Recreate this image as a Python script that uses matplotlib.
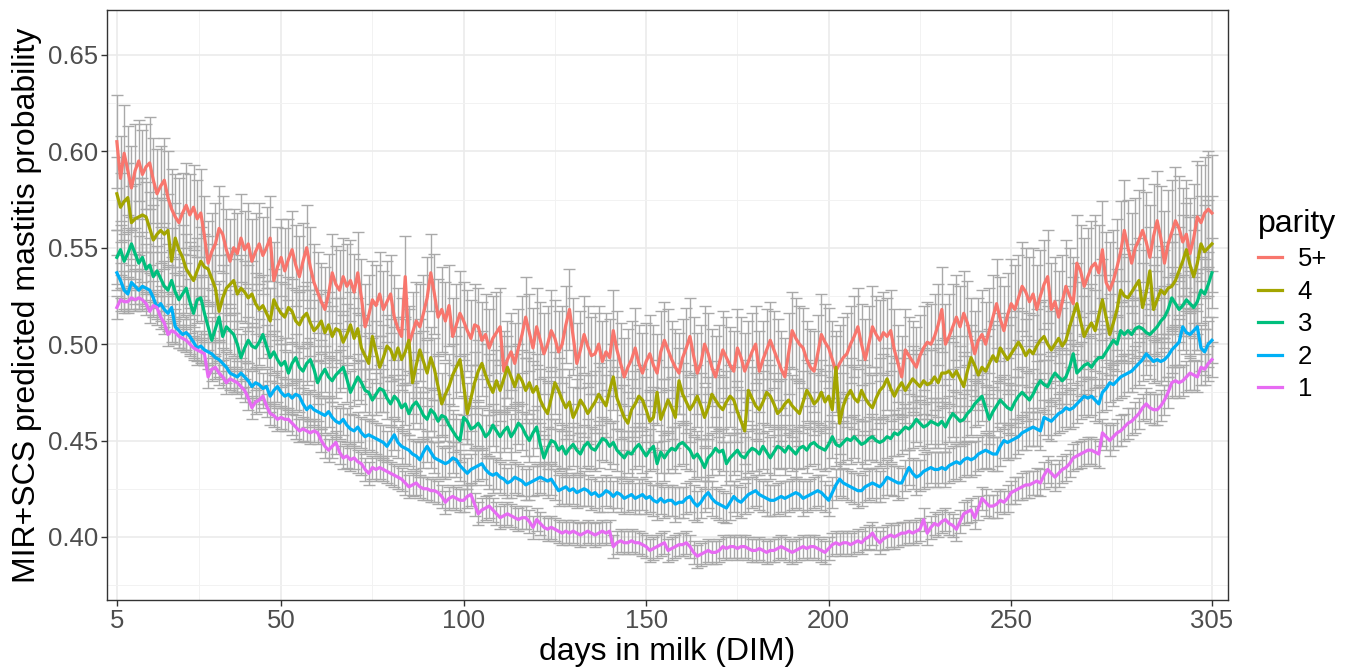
import numpy as np
import matplotlib.pyplot as plt

# predicted mastitis probability by DIM, per parity (values x 1000)
dim = np.arange(5, 306)

p5 = [605, 586, 599, 590, 581, 590, 595, 588, 592, 594,
      585, 578, 582, 585, 576, 570, 566, 563, 568, 572,
      567, 571, 565, 568, 556, 542, 548, 552, 560, 557,
      549, 543, 550, 547, 555, 549, 552, 543, 548, 552,
      546, 550, 555, 533, 540, 545, 538, 544, 549, 541,
      535, 543, 550, 540, 532, 527, 522, 518, 526, 537,
      531, 528, 535, 530, 533, 527, 537, 524, 509, 515,
      523, 520, 526, 518, 522, 526, 514, 508, 504, 535,
      500, 506, 512, 509, 516, 524, 537, 526, 514, 518,
      512, 520, 504, 510, 516, 512, 507, 503, 510, 509,
      502, 505, 498, 503, 506, 509, 486, 492, 496, 490,
      498, 505, 514, 506, 498, 509, 502, 495, 500, 507,
      503, 496, 500, 510, 518, 504, 490, 497, 505, 499,
      494, 495, 500, 491, 496, 493, 507, 497, 490, 483,
      488, 492, 498, 490, 485, 491, 495, 489, 485, 496,
      502, 497, 492, 488, 485, 493, 498, 504, 494, 485,
      490, 500, 495, 488, 483, 490, 497, 493, 489, 486,
      498, 493, 486, 491, 496, 500, 486, 492, 497, 502,
      497, 492, 487, 483, 495, 507, 503, 500, 498, 492,
      488, 486, 495, 505, 501, 498, 492, 486, 490, 493,
      495, 500, 504, 509, 500, 492, 500, 509, 505, 502,
      506, 504, 507, 497, 490, 483, 497, 494, 491, 488,
      494, 498, 501, 500, 504, 510, 518, 500, 504, 509,
      514, 509, 516, 511, 503, 495, 502, 505, 500, 507,
      514, 521, 513, 507, 515, 521, 518, 524, 530, 527,
      522, 526, 518, 525, 531, 535, 518, 522, 514, 522,
      530, 525, 521, 542, 538, 530, 535, 540, 542, 537,
      549, 532, 528, 533, 540, 548, 559, 550, 542, 550,
      554, 559, 553, 545, 556, 564, 555, 542, 552, 558,
      564, 560, 553, 557, 547, 555, 566, 563, 568, 570,
      568]

p4 = [578, 571, 574, 576, 563, 565, 566, 567, 566, 560,
      554, 557, 559, 557, 559, 543, 555, 549, 545, 539,
      536, 533, 538, 543, 540, 539, 534, 529, 517, 524,
      529, 531, 533, 526, 529, 527, 524, 526, 521, 518,
      520, 516, 512, 523, 519, 516, 514, 519, 517, 512,
      510, 514, 516, 511, 507, 509, 512, 506, 510, 504,
      508, 507, 501, 505, 510, 503, 508, 498, 494, 490,
      504, 496, 488, 493, 499, 497, 492, 498, 492, 496,
      502, 480, 489, 497, 491, 485, 493, 487, 478, 469,
      474, 478, 484, 488, 492, 479, 464, 472, 480, 486,
      490, 484, 479, 475, 481, 476, 482, 488, 483, 478,
      484, 481, 476, 480, 475, 478, 471, 467, 464, 472,
      480, 476, 471, 467, 470, 462, 466, 471, 468, 464,
      467, 470, 474, 471, 468, 476, 483, 472, 467, 462,
      459, 466, 469, 473, 471, 466, 460, 462, 475, 461,
      466, 471, 467, 462, 481, 474, 470, 466, 469, 473,
      468, 462, 467, 474, 471, 468, 466, 470, 473, 471,
      465, 460, 455, 476, 472, 468, 466, 470, 475, 473,
      469, 464, 466, 469, 471, 468, 466, 464, 470, 476,
      473, 469, 471, 475, 470, 473, 466, 488, 459, 468,
      473, 476, 472, 470, 476, 472, 469, 467, 472, 476,
      478, 482, 477, 473, 477, 480, 476, 479, 482, 480,
      478, 481, 479, 480, 483, 480, 485, 485, 486, 483,
      486, 482, 478, 486, 493, 489, 484, 488, 486, 490,
      494, 491, 498, 495, 492, 495, 498, 501, 498, 494,
      497, 495, 499, 502, 504, 500, 497, 500, 503, 499,
      502, 509, 515, 521, 512, 504, 508, 511, 507, 515,
      523, 514, 505, 511, 518, 528, 525, 524, 527, 530,
      533, 519, 527, 538, 518, 523, 528, 526, 529, 530,
      533, 538, 543, 549, 541, 535, 542, 552, 548, 550,
      552]

p3 = [545, 549, 543, 547, 552, 547, 542, 545, 539, 541,
      535, 538, 534, 530, 528, 533, 527, 523, 526, 529,
      522, 516, 523, 524, 516, 509, 502, 508, 514, 504,
      509, 507, 505, 500, 493, 498, 502, 499, 498, 501,
      505, 499, 493, 496, 492, 489, 491, 485, 490, 493,
      488, 486, 490, 492, 487, 480, 484, 487, 483, 481,
      484, 486, 488, 482, 475, 479, 483, 480, 476, 475,
      471, 474, 477, 476, 472, 469, 473, 471, 467, 469,
      464, 468, 470, 467, 463, 461, 466, 464, 460, 463,
      462, 458, 455, 452, 450, 462, 460, 456, 457, 459,
      456, 452, 454, 458, 455, 452, 455, 457, 452, 455,
      459, 457, 453, 450, 454, 457, 448, 441, 446, 450,
      449, 445, 447, 443, 446, 448, 445, 443, 447, 449,
      446, 445, 448, 451, 450, 447, 449, 445, 443, 441,
      444, 443, 446, 448, 445, 442, 445, 447, 438, 444,
      441, 444, 446, 445, 448, 449, 447, 445, 441, 443,
      440, 436, 441, 443, 446, 444, 445, 438, 441, 443,
      445, 442, 441, 444, 446, 445, 443, 447, 444, 441,
      444, 447, 446, 444, 447, 445, 443, 446, 447, 445,
      448, 449, 447, 446, 445, 448, 452, 448, 447, 449,
      451, 450, 452, 450, 448, 449, 451, 452, 450, 449,
      450, 452, 451, 454, 453, 455, 457, 456, 458, 461,
      459, 457, 458, 460, 459, 458, 460, 457, 461, 464,
      462, 460, 461, 464, 466, 469, 471, 473, 467, 461,
      465, 468, 471, 469, 467, 466, 470, 473, 475, 473,
      471, 474, 478, 481, 479, 478, 482, 485, 483, 481,
      483, 488, 495, 485, 487, 489, 490, 488, 491, 493,
      493, 496, 499, 502, 500, 507, 505, 507, 505, 508,
      509, 508, 506, 505, 507, 509, 512, 514, 518, 524,
      521, 518, 520, 523, 521, 519, 522, 528, 526, 531,
      537]

p2 = [537, 533, 528, 526, 532, 530, 528, 530, 529, 528,
      524, 519, 521, 518, 516, 519, 509, 507, 505, 506,
      504, 501, 498, 499, 497, 496, 495, 493, 492, 490,
      488, 485, 484, 483, 485, 483, 481, 478, 480, 479,
      477, 478, 473, 476, 478, 475, 473, 474, 472, 474,
      473, 469, 466, 468, 466, 465, 464, 463, 465, 462,
      460, 459, 461, 458, 456, 455, 457, 454, 452, 453,
      452, 451, 450, 449, 447, 450, 453, 449, 447, 446,
      445, 443, 442, 440, 444, 447, 444, 441, 440, 439,
      438, 439, 441, 440, 437, 435, 433, 435, 436, 437,
      438, 435, 433, 432, 433, 431, 430, 428, 429, 431,
      430, 429, 427, 428, 429, 430, 431, 430, 429, 430,
      427, 424, 425, 426, 424, 425, 423, 424, 425, 424,
      422, 423, 421, 422, 424, 423, 421, 423, 422, 420,
      421, 422, 420, 421, 422, 420, 421, 419, 418, 420,
      418, 419, 419, 417, 418, 418, 420, 421, 418, 416,
      418, 421, 423, 420, 418, 417, 416, 415, 418, 421,
      419, 418, 420, 422, 423, 424, 422, 421, 420, 419,
      419, 420, 421, 420, 421, 422, 423, 422, 420, 421,
      422, 423, 424, 423, 421, 419, 423, 427, 430, 428,
      427, 426, 425, 424, 424, 426, 427, 428, 427, 426,
      428, 431, 430, 429, 428, 428, 432, 436, 433, 431,
      432, 434, 435, 436, 435, 435, 436, 435, 437, 438,
      439, 438, 440, 441, 440, 441, 443, 444, 445, 444,
      443, 443, 447, 450, 449, 450, 451, 452, 454, 455,
      456, 457, 456, 455, 462, 461, 460, 462, 464, 465,
      467, 466, 467, 469, 471, 473, 472, 473, 471, 469,
      475, 477, 480, 479, 481, 483, 484, 485, 486, 488,
      490, 492, 495, 493, 491, 492, 491, 492, 494, 497,
      499, 501, 509, 506, 505, 507, 509, 498, 496, 500,
      502]

p1 = [519, 523, 522, 522, 524, 523, 524, 523, 521, 517,
      520, 519, 514, 511, 505, 507, 506, 504, 503, 502,
      500, 498, 497, 496, 495, 483, 487, 488, 485, 483,
      480, 482, 481, 480, 478, 476, 472, 467, 470, 471,
      473, 468, 464, 463, 461, 462, 461, 461, 459, 457,
      455, 456, 455, 454, 455, 454, 450, 447, 445, 447,
      449, 444, 441, 442, 440, 441, 439, 438, 435, 433,
      436, 435, 436, 435, 434, 433, 432, 431, 430, 428,
      426, 427, 428, 426, 425, 425, 424, 424, 423, 421,
      418, 420, 421, 420, 419, 419, 421, 422, 417, 412,
      414, 415, 416, 414, 412, 410, 411, 412, 411, 410,
      409, 410, 410, 408, 405, 409, 407, 405, 404, 405,
      404, 403, 402, 403, 402, 403, 402, 401, 402, 403,
      402, 401, 402, 403, 402, 403, 395, 397, 398, 397,
      397, 398, 397, 397, 396, 395, 393, 394, 395, 396,
      397, 393, 394, 395, 396, 396, 397, 395, 392, 390,
      391, 392, 393, 392, 392, 393, 395, 394, 395, 395,
      394, 395, 395, 394, 393, 393, 394, 393, 392, 393,
      393, 394, 395, 394, 393, 392, 393, 394, 395, 394,
      395, 395, 394, 393, 392, 394, 396, 397, 396, 397,
      397, 396, 397, 398, 397, 399, 400, 402, 399, 397,
      399, 400, 401, 400, 401, 402, 402, 403, 402, 403,
      404, 409, 402, 405, 407, 406, 408, 409, 407, 406,
      404, 408, 412, 413, 414, 410, 415, 420, 418, 416,
      416, 417, 419, 418, 420, 423, 424, 425, 426, 427,
      427, 428, 429, 428, 432, 435, 433, 431, 433, 435,
      436, 438, 441, 442, 443, 444, 445, 445, 444, 443,
      454, 452, 450, 452, 454, 455, 457, 459, 460, 462,
      464, 467, 469, 467, 466, 466, 468, 471, 475, 480,
      481, 480, 481, 483, 485, 484, 483, 488, 487, 490,
      492]

# half-widths of the error bars (x 1000)
e5 = [24, 22, 25, 23, 22, 24, 21, 23, 22, 24,
      22, 23, 21, 22, 24, 21, 22, 23, 21, 22,
      21, 22, 20, 23, 21, 22, 20, 21, 22, 20,
      21, 22, 20, 21, 23, 20, 21, 22, 20, 21,
      20, 21, 22, 20, 21, 20, 22, 21, 20, 21,
      21, 20, 22, 21, 20, 21, 20, 22, 21, 20,
      20, 21, 20, 22, 21, 20, 21, 20, 22, 21,
      20, 21, 22, 20, 21, 20, 22, 21, 20, 21,
      20, 21, 20, 22, 20, 21, 20, 21, 20, 22,
      20, 21, 20, 21, 22, 20, 21, 20, 21, 20,
      20, 21, 20, 22, 21, 20, 21, 20, 20, 21,
      20, 20, 21, 20, 21, 20, 20, 21, 20, 21,
      20, 21, 20, 20, 21, 20, 21, 20, 20, 21,
      20, 21, 20, 21, 20, 20, 21, 20, 21, 20,
      20, 20, 21, 20, 21, 20, 20, 21, 20, 21,
      20, 21, 20, 20, 21, 20, 21, 20, 20, 21,
      20, 20, 21, 20, 21, 20, 20, 21, 20, 21,
      20, 21, 20, 21, 20, 20, 21, 20, 21, 20,
      20, 21, 20, 20, 21, 20, 21, 20, 21, 20,
      20, 21, 20, 21, 20, 21, 20, 21, 20, 21,
      21, 20, 21, 20, 21, 21, 20, 21, 20, 21,
      21, 20, 21, 21, 20, 21, 21, 20, 21, 21,
      21, 22, 21, 21, 22, 21, 22, 21, 22, 22,
      22, 21, 22, 22, 21, 22, 22, 23, 22, 22,
      22, 23, 22, 23, 22, 23, 23, 22, 23, 23,
      23, 24, 23, 24, 23, 24, 24, 23, 24, 24,
      24, 25, 24, 25, 24, 25, 25, 24, 25, 25,
      25, 26, 25, 26, 25, 26, 26, 25, 26, 26,
      26, 27, 26, 27, 27, 26, 27, 27, 28, 27,
      28, 27, 28, 28, 29, 28, 29, 30, 29, 30,
      30]

e4 = [19, 18, 20, 18, 19, 18, 20, 19, 18, 19,
      18, 19, 17, 18, 19, 17, 18, 19, 17, 18,
      17, 18, 17, 18, 17, 17, 18, 17, 16, 17,
      17, 16, 17, 18, 17, 16, 17, 17, 16, 17,
      16, 17, 17, 16, 17, 16, 17, 16, 17, 16,
      17, 16, 16, 17, 16, 17, 16, 16, 17, 16,
      16, 17, 16, 16, 17, 16, 16, 17, 16, 16,
      17, 16, 16, 17, 16, 16, 17, 16, 16, 17,
      16, 16, 17, 16, 16, 17, 16, 16, 17, 16,
      16, 17, 16, 16, 17, 16, 16, 17, 16, 16,
      17, 16, 16, 17, 16, 16, 17, 16, 16, 17,
      16, 16, 17, 16, 16, 17, 16, 16, 17, 16,
      16, 17, 16, 16, 17, 16, 16, 17, 16, 16,
      17, 16, 16, 17, 16, 16, 17, 16, 16, 17,
      16, 16, 17, 16, 16, 17, 16, 16, 17, 16,
      16, 17, 16, 16, 17, 16, 16, 17, 16, 16,
      17, 16, 16, 17, 16, 16, 17, 16, 16, 17,
      16, 16, 17, 16, 16, 17, 16, 16, 17, 16,
      16, 17, 16, 16, 17, 16, 16, 17, 16, 16,
      17, 16, 16, 17, 16, 16, 17, 16, 16, 17,
      16, 17, 16, 17, 16, 17, 16, 17, 16, 17,
      17, 16, 17, 17, 16, 17, 17, 16, 17, 17,
      17, 17, 18, 17, 17, 18, 17, 18, 17, 18,
      18, 17, 18, 18, 17, 18, 18, 19, 18, 18,
      18, 19, 18, 19, 18, 19, 19, 18, 19, 19,
      19, 20, 19, 20, 19, 20, 20, 19, 20, 20,
      20, 21, 20, 21, 20, 21, 21, 20, 21, 21,
      21, 22, 21, 22, 21, 22, 22, 21, 22, 22,
      22, 23, 22, 23, 23, 22, 23, 23, 24, 23,
      24, 23, 24, 24, 25, 24, 25, 25, 24, 25,
      25]

e3 = [14, 13, 14, 13, 14, 13, 14, 13, 13, 14,
      13, 13, 14, 13, 13, 12, 13, 13, 12, 13,
      12, 13, 12, 12, 13, 12, 12, 13, 12, 12,
      12, 12, 11, 12, 12, 11, 12, 12, 11, 12,
      12, 11, 12, 11, 12, 11, 12, 11, 11, 12,
      11, 12, 11, 11, 12, 11, 11, 12, 11, 11,
      12, 11, 11, 12, 11, 11, 12, 11, 11, 12,
      11, 11, 12, 11, 11, 12, 11, 11, 12, 11,
      11, 12, 11, 11, 12, 11, 11, 12, 11, 11,
      12, 11, 11, 12, 11, 11, 12, 11, 11, 12,
      11, 11, 12, 11, 11, 12, 11, 11, 12, 11,
      11, 12, 11, 11, 12, 11, 11, 12, 11, 11,
      12, 11, 11, 12, 11, 11, 12, 11, 11, 12,
      11, 11, 12, 11, 11, 12, 11, 11, 12, 11,
      11, 12, 11, 11, 12, 11, 11, 12, 11, 11,
      12, 11, 11, 12, 11, 11, 12, 11, 11, 12,
      11, 11, 12, 11, 11, 12, 11, 11, 12, 11,
      11, 12, 11, 11, 12, 11, 11, 12, 11, 11,
      12, 11, 11, 12, 11, 11, 12, 11, 11, 12,
      11, 11, 12, 11, 11, 12, 11, 11, 12, 11,
      11, 12, 11, 11, 12, 11, 11, 12, 11, 12,
      12, 11, 12, 12, 11, 12, 12, 11, 12, 12,
      12, 12, 12, 12, 13, 12, 12, 13, 12, 12,
      13, 12, 13, 12, 13, 12, 13, 13, 12, 13,
      13, 13, 12, 13, 13, 13, 13, 14, 13, 13,
      14, 13, 13, 14, 13, 14, 14, 13, 14, 14,
      14, 14, 15, 14, 14, 15, 14, 15, 14, 15,
      15, 14, 15, 15, 14, 15, 15, 16, 15, 15,
      15, 16, 15, 16, 16, 15, 16, 16, 17, 16,
      16, 17, 16, 17, 17, 16, 17, 17, 18, 17,
      18]

e2 = [9, 9, 10, 9, 9, 9, 10, 9, 9, 9,
      9, 9, 9, 9, 9, 8, 9, 9, 8, 9,
      9, 8, 9, 8, 8, 9, 8, 8, 9, 8,
      8, 8, 9, 8, 8, 8, 9, 8, 8, 8,
      8, 9, 8, 8, 8, 8, 9, 8, 8, 8,
      8, 8, 9, 8, 8, 8, 8, 9, 8, 8,
      8, 8, 8, 9, 8, 8, 8, 8, 9, 8,
      8, 8, 8, 9, 8, 8, 8, 8, 9, 8,
      8, 8, 8, 9, 8, 8, 8, 8, 9, 8,
      8, 8, 8, 9, 8, 8, 8, 8, 9, 8,
      8, 8, 8, 9, 8, 8, 8, 8, 9, 8,
      8, 8, 8, 9, 8, 8, 8, 8, 9, 8,
      8, 8, 8, 9, 8, 8, 8, 8, 9, 8,
      8, 8, 8, 9, 8, 8, 8, 8, 9, 8,
      8, 8, 8, 9, 8, 8, 8, 8, 9, 8,
      8, 8, 8, 9, 8, 8, 8, 8, 9, 8,
      8, 8, 8, 9, 8, 8, 8, 8, 9, 8,
      8, 8, 8, 9, 8, 8, 8, 8, 9, 8,
      8, 8, 8, 9, 8, 8, 8, 8, 9, 8,
      8, 8, 8, 9, 8, 8, 8, 8, 9, 8,
      8, 8, 8, 9, 8, 8, 8, 8, 9, 8,
      8, 9, 8, 8, 9, 8, 8, 9, 8, 9,
      8, 9, 9, 8, 9, 9, 8, 9, 9, 9,
      9, 9, 9, 9, 9, 9, 9, 9, 9, 9,
      9, 9, 10, 9, 9, 9, 10, 9, 9, 10,
      9, 10, 9, 10, 9, 10, 10, 9, 10, 10,
      10, 10, 10, 10, 10, 10, 10, 10, 11, 10,
      10, 11, 10, 11, 10, 11, 11, 10, 11, 11,
      11, 11, 11, 11, 11, 11, 12, 11, 11, 12,
      11, 12, 12, 11, 12, 12, 12, 12, 12, 12,
      12]

e1 = [6, 6, 6, 6, 6, 6, 6, 6, 6, 6,
      6, 6, 6, 6, 6, 6, 6, 6, 6, 6,
      6, 6, 6, 6, 6, 6, 6, 6, 6, 6,
      6, 6, 6, 6, 6, 6, 6, 6, 6, 6,
      6, 6, 6, 6, 6, 6, 6, 6, 6, 6,
      6, 6, 6, 6, 6, 6, 6, 6, 6, 6,
      6, 6, 6, 6, 6, 6, 6, 6, 6, 6,
      6, 6, 6, 6, 6, 6, 6, 6, 6, 6,
      6, 6, 6, 6, 6, 6, 6, 6, 6, 6,
      6, 6, 6, 6, 6, 6, 6, 6, 6, 6,
      6, 6, 6, 6, 6, 6, 6, 6, 6, 6,
      6, 6, 6, 6, 6, 6, 6, 6, 6, 6,
      6, 6, 6, 6, 6, 6, 6, 6, 6, 6,
      6, 6, 6, 6, 6, 6, 6, 6, 6, 6,
      6, 6, 6, 6, 6, 6, 6, 6, 6, 6,
      6, 6, 6, 6, 6, 6, 6, 6, 6, 6,
      6, 6, 6, 6, 6, 6, 6, 6, 6, 6,
      6, 6, 6, 6, 6, 6, 6, 6, 6, 6,
      6, 6, 6, 6, 6, 6, 6, 6, 6, 6,
      6, 6, 6, 6, 6, 6, 6, 6, 6, 6,
      6, 6, 6, 6, 6, 6, 6, 6, 6, 6,
      6, 6, 6, 6, 6, 6, 6, 6, 6, 6,
      6, 6, 6, 6, 6, 6, 6, 6, 6, 6,
      6, 6, 6, 6, 6, 6, 6, 6, 7, 6,
      6, 7, 6, 6, 7, 6, 7, 6, 7, 7,
      7, 6, 7, 7, 7, 7, 7, 7, 7, 7,
      7, 7, 7, 7, 7, 7, 7, 7, 7, 7,
      7, 7, 8, 7, 7, 8, 7, 8, 7, 8,
      8, 7, 8, 8, 8, 8, 8, 8, 8, 8,
      8, 8, 8, 8, 9, 8, 8, 9, 8, 9,
      9]

parity = ["5+", "4", "3", "2", "1"]
colors = ["#F8766D", "#A3A500", "#00BF7D", "#00B0F6", "#E76BF3"]
values = [p5, p4, p3, p2, p1]
errors = [e5, e4, e3, e2, e1]

plt.rcParams['font.family'] = ['Liberation Sans', 'DejaVu Sans']

fig = plt.figure(figsize=(13.5, 6.7), dpi=100)
ax = fig.add_axes([107 / 1350, 70 / 670, 1121 / 1350, 590 / 670])

# error bars first, lines on top (ggplot layer order)
for v, e in zip(values, errors):
    ax.errorbar(dim, np.array(v) / 1000, yerr=np.array(e) / 1000, fmt='none',
                ecolor='#A9A9A9', elinewidth=1.0, capsize=4.5, capthick=1.0, zorder=2)

handles = []
for name, v, c in zip(parity, values, colors):
    h, = ax.plot(dim, np.array(v) / 1000, color=c, lw=2.3, zorder=3, label=name)
    handles.append(h)

ax.set_xlim(2.3, 309.4)
ax.set_ylim(0.3673, 0.6733)
ax.set_xticks([5, 50, 100, 150, 200, 250, 305])
ax.set_xticks([27.5, 75, 125, 175, 225, 277.5], minor=True)
ax.set_yticks([0.40, 0.45, 0.50, 0.55, 0.60, 0.65])
ax.set_yticks([0.375, 0.425, 0.475, 0.525, 0.575, 0.625], minor=True)
ax.set_yticklabels(["0.40", "0.45", "0.50", "0.55", "0.60", "0.65"])

ax.grid(which='major', color='#EBEBEB', lw=1.2, zorder=0)
ax.grid(which='minor', color='#F2F2F2', lw=0.7, zorder=0)
ax.set_axisbelow(True)
ax.tick_params(which='major', length=4.5, width=1, color='#333333', labelsize=18.5,
               labelcolor='#4D4D4D', pad=2)
ax.tick_params(which='minor', length=0)
for s in ax.spines.values():
    s.set_color('#333333')
    s.set_linewidth(1.0)

ax.set_xlabel("days in milk (DIM)", fontsize=23, labelpad=3)
ax.set_ylabel("MIR+SCS predicted mastitis probability", fontsize=23, labelpad=4)

leg = ax.legend(handles=handles, title="parity", loc='upper left',
                bbox_to_anchor=(1245 / 1350, 1 - 196 / 670), bbox_transform=fig.transFigure,
                frameon=False, fontsize=18.5, title_fontsize=23, handlelength=0.95,
                handletextpad=0.6, labelspacing=0.33, borderpad=0, alignment='left')

fig.savefig("out.png", dpi=100)
